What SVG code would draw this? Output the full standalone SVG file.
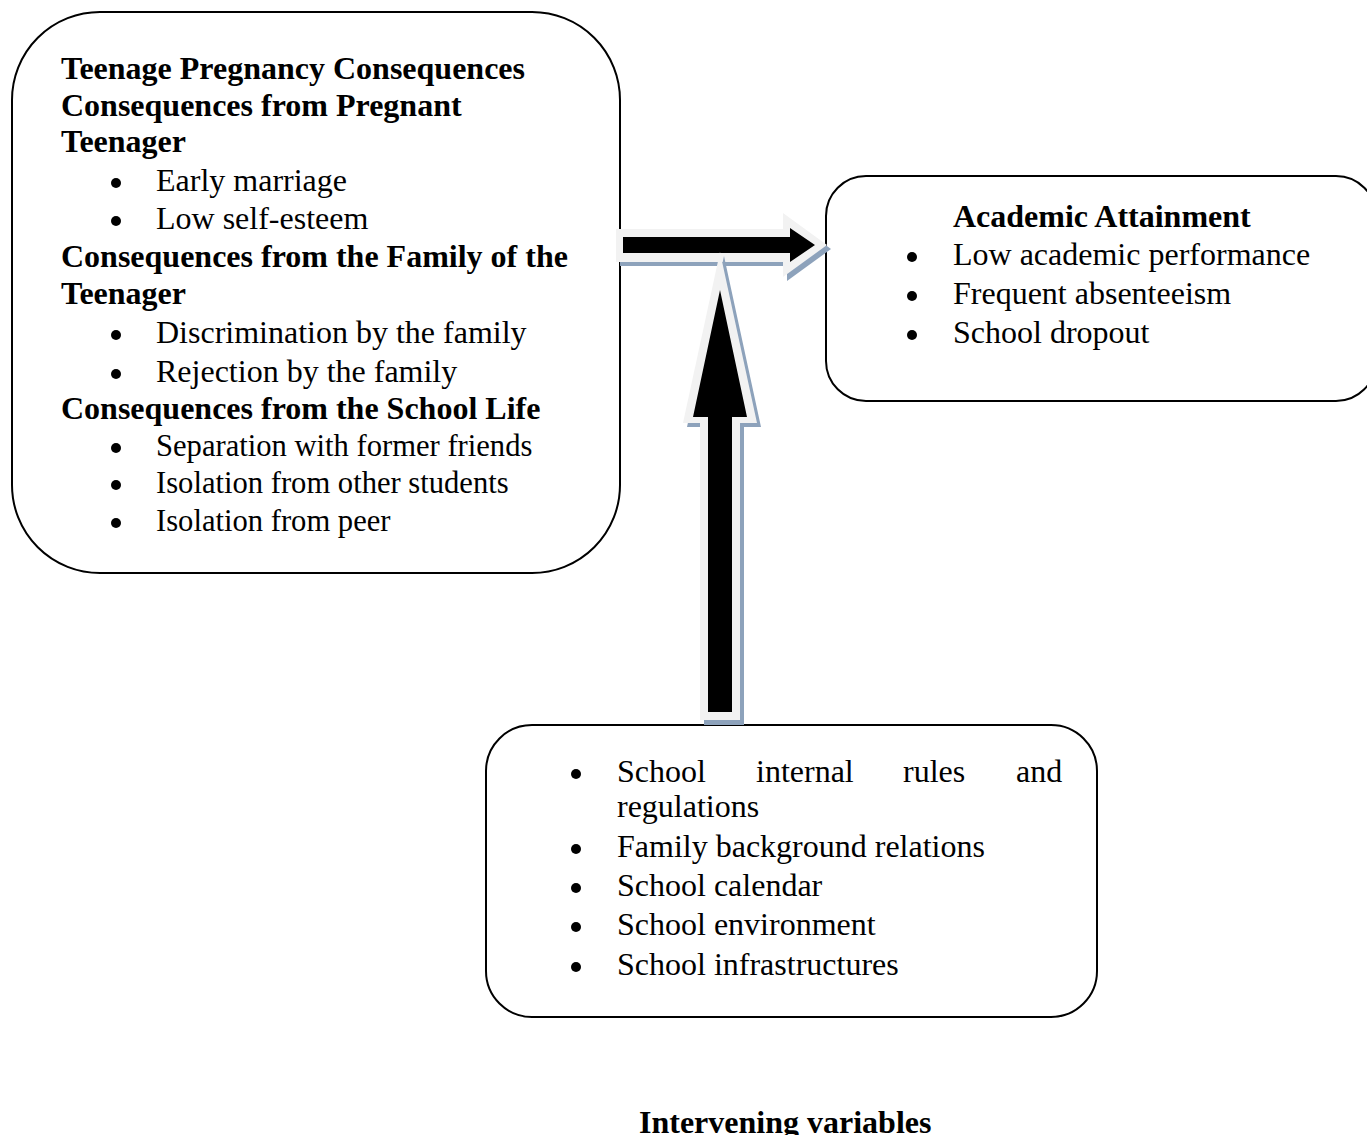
<svg xmlns="http://www.w3.org/2000/svg" width="1367" height="1135" viewBox="0 0 1367 1135">
  <style>
    .box { fill: #ffffff; stroke: #000000; stroke-width: 2; }
    .t { font-family: "Liberation Serif", "Times New Roman", serif; font-size: 32px; fill: #000000; }
    .s { font-size: 30.6px; }
    .b { font-weight: bold; }
    .dot { fill: #000000; }
    .shadow { fill: #8da2bb; }
    .halo { fill: #f2f2f2; }
    .core { fill: #000000; }
  </style>
  <rect width="1367" height="1135" fill="#ffffff"/>

  <g id="node-consequences">
    <rect class="box" x="12" y="12" width="608" height="561" rx="88" ry="88"/>
    <text class="t b" x="61" y="79">Teenage Pregnancy Consequences</text>
    <text class="t b" x="61" y="116">Consequences from Pregnant</text>
    <text class="t b" x="61" y="152">Teenager</text>
    <circle class="dot" cx="116" cy="183" r="5"/>
    <text class="t" x="156" y="191">Early marriage</text>
    <circle class="dot" cx="116" cy="221" r="5"/>
    <text class="t" x="156" y="229">Low self-esteem</text>
    <text class="t b" x="61" y="267">Consequences from the Family of the</text>
    <text class="t b" x="61" y="304">Teenager</text>
    <circle class="dot" cx="116" cy="335" r="5"/>
    <text class="t" x="156" y="343">Discrimination by the family</text>
    <circle class="dot" cx="116" cy="374" r="5"/>
    <text class="t" x="156" y="382">Rejection by the family</text>
    <text class="t b" x="61" y="419">Consequences from the School Life</text>
    <circle class="dot" cx="116" cy="448" r="5"/>
    <text class="t s" x="156" y="456">Separation with former friends</text>
    <circle class="dot" cx="116" cy="485" r="5"/>
    <text class="t s" x="156" y="493">Isolation from other students</text>
    <circle class="dot" cx="116" cy="523" r="5"/>
    <text class="t s" x="156" y="531">Isolation from peer</text>
  </g>

  <g id="node-attainment">
    <rect class="box" x="826" y="176" width="550" height="225" rx="40" ry="40"/>
    <text class="t b" x="953" y="227">Academic Attainment</text>
    <circle class="dot" cx="912" cy="257" r="5"/>
    <text class="t" x="953" y="265">Low academic performance</text>
    <circle class="dot" cx="912" cy="296" r="5"/>
    <text class="t" x="953" y="304">Frequent absenteeism</text>
    <circle class="dot" cx="912" cy="335" r="5"/>
    <text class="t" x="953" y="343">School dropout</text>
  </g>

  <g id="node-intervening">
    <rect class="box" x="486" y="725" width="611" height="292" rx="46" ry="46"/>
    <circle class="dot" cx="576" cy="774" r="5"/>
    <text class="t"><tspan x="617" y="782">School</tspan><tspan x="756" y="782">internal</tspan><tspan x="903" y="782">rules</tspan><tspan x="1016" y="782">and</tspan></text>
    <text class="t" x="617" y="817">regulations</text>
    <circle class="dot" cx="576" cy="849" r="5"/>
    <text class="t" x="617" y="857">Family background relations</text>
    <circle class="dot" cx="576" cy="888" r="5"/>
    <text class="t" x="617" y="896">School calendar</text>
    <circle class="dot" cx="576" cy="927" r="5"/>
    <text class="t" x="617" y="935">School environment</text>
    <circle class="dot" cx="576" cy="967" r="5"/>
    <text class="t" x="617" y="975">School infrastructures</text>
  </g>

  <g id="label-intervening">
    <text class="t b" x="639" y="1133">Intervening variables</text>
  </g>

  <g id="connectors">
    <g id="arrow-horizontal">
      <polygon class="shadow" points="620,233 787,233 787,217 831,249 787,281 787,266 620,266"/>
      <polygon class="halo" points="616,229 783,229 783,213 827,245 783,277 783,262 616,262"/>
      <polygon class="core" points="623,237 790,237 790,228 815,245 790,262 790,253 623,253"/>
    </g>
    <g id="arrow-vertical">
      <polygon class="shadow" points="724,256 761,427 744,427 744,725 704,725 704,427 687,427"/>
      <polygon class="halo" points="720,252 757,423 740,423 740,720 700,720 700,423 683,423"/>
      <polygon class="core" points="720,290 747,417 732,417 732,712 708,712 708,417 693,417"/>
    </g>
  </g>
</svg>
